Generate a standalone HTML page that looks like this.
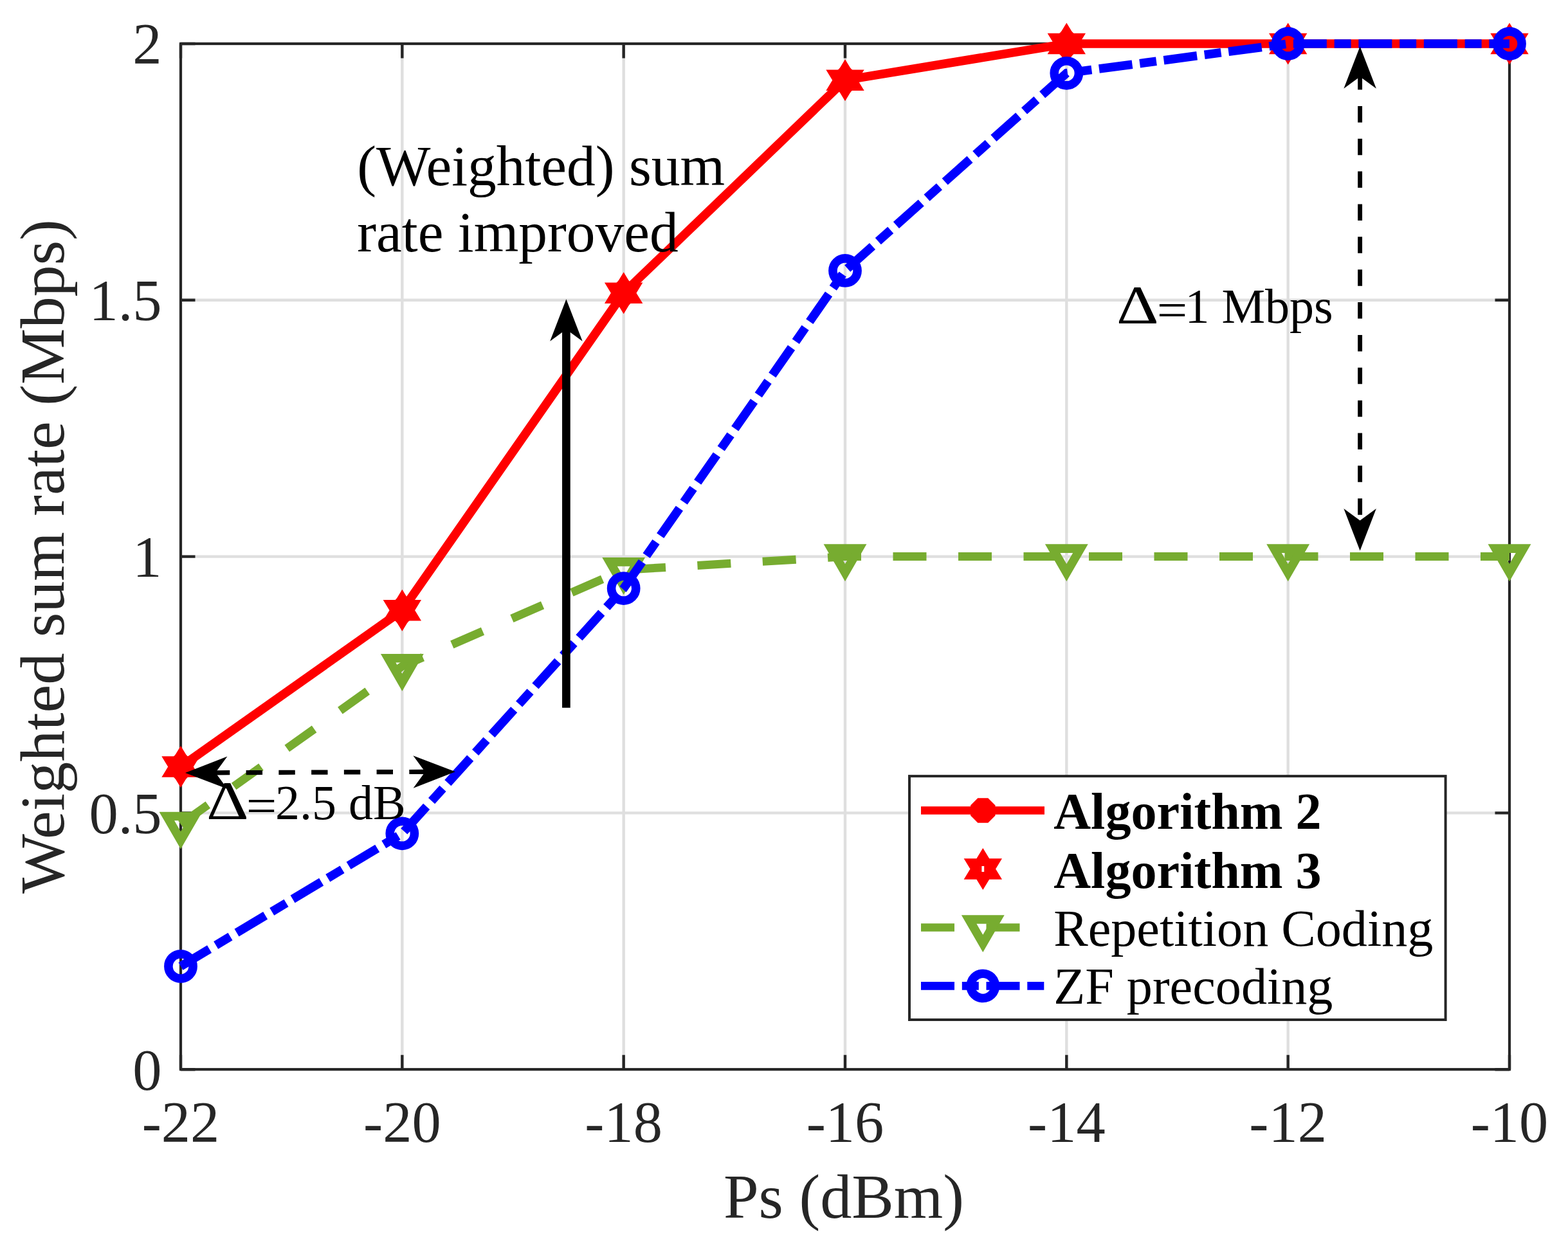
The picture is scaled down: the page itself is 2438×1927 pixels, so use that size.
<!DOCTYPE html><html><head><meta charset="utf-8"><title>Weighted sum rate vs Ps</title>
<style>html,body{margin:0;padding:0;background:#fff;}svg{display:block;}text{font-family:"Liberation Serif","Times New Roman",serif;}</style></head><body>
<svg width="2438" height="1927" viewBox="0 0 2438 1927">
<rect width="2438" height="1927" fill="#fff"/>
<path d="M625.33 68V1663.2 M969.67 68V1663.2 M1314 68V1663.2 M1658.33 68V1663.2 M2002.67 68V1663.2 M281 1264.4H2347 M281 865.6H2347 M281 466.8H2347" stroke="#dfdfdf" stroke-width="4.4" fill="none"/>
<path d="M281 1663.2V1640.7 M281 68V90.5 M625.33 1663.2V1640.7 M625.33 68V90.5 M969.67 1663.2V1640.7 M969.67 68V90.5 M1314 1663.2V1640.7 M1314 68V90.5 M1658.33 1663.2V1640.7 M1658.33 68V90.5 M2002.67 1663.2V1640.7 M2002.67 68V90.5 M2347 1663.2V1640.7 M2347 68V90.5 M281 1663.2H303.5 M2347 1663.2H2324.5 M281 1264.4H303.5 M2347 1264.4H2324.5 M281 865.6H303.5 M2347 865.6H2324.5 M281 466.8H303.5 M2347 466.8H2324.5 M281 68H303.5 M2347 68H2324.5" stroke="#262626" stroke-width="4.4" fill="none"/>
<rect x="281" y="68" width="2066" height="1595.2" fill="none" stroke="#262626" stroke-width="4.2"/>
<g font-size="90.5" fill="#262626"><text x="281" y="1775.8" text-anchor="middle">-22</text><text x="625.33" y="1775.8" text-anchor="middle">-20</text><text x="969.67" y="1775.8" text-anchor="middle">-18</text><text x="1314" y="1775.8" text-anchor="middle">-16</text><text x="1658.33" y="1775.8" text-anchor="middle">-14</text><text x="2002.67" y="1775.8" text-anchor="middle">-12</text><text x="2347" y="1775.8" text-anchor="middle">-10</text><text x="251.5" y="1694.5" text-anchor="end">0</text><text x="251.5" y="1295.7" text-anchor="end">0.5</text><text x="251.5" y="896.9" text-anchor="end">1</text><text x="251.5" y="498.1" text-anchor="end">1.5</text><text x="251.5" y="99.3" text-anchor="end">2</text></g>
<text x="1312" y="1893.7" text-anchor="middle" font-size="98.3" fill="#262626">Ps (dBm)</text>
<text transform="translate(98.5 865.6) rotate(-90)" text-anchor="middle" font-size="98.3" fill="#262626">Weighted sum rate (Mbps)</text>
<polyline points="281,1192.62 625.33,949.35 969.67,455.63 1314,124.63 1658.33,68 2002.67,68 2347,68" fill="none" stroke="#ff0000" stroke-width="13.6" stroke-linejoin="miter"/>
<polygon points="300.22,1184.66 288.96,1173.4 273.04,1173.4 261.78,1184.66 261.78,1200.58 273.04,1211.83 288.96,1211.83 300.22,1200.58" fill="#ff0000"/>
<polygon points="644.55,941.39 633.29,930.13 617.37,930.13 606.12,941.39 606.12,957.31 617.37,968.56 633.29,968.56 644.55,957.31" fill="#ff0000"/>
<polygon points="988.88,447.67 977.63,436.42 961.71,436.42 950.45,447.67 950.45,463.59 961.71,474.85 977.63,474.85 988.88,463.59" fill="#ff0000"/>
<polygon points="1333.22,116.67 1321.96,105.41 1306.04,105.41 1294.78,116.67 1294.78,132.59 1306.04,143.85 1321.96,143.85 1333.22,132.59" fill="#ff0000"/>
<polygon points="1677.55,60.04 1666.29,48.78 1650.37,48.78 1639.12,60.04 1639.12,75.96 1650.37,87.22 1666.29,87.22 1677.55,75.96" fill="#ff0000"/>
<polygon points="2021.88,60.04 2010.63,48.78 1994.71,48.78 1983.45,60.04 1983.45,75.96 1994.71,87.22 2010.63,87.22 2021.88,75.96" fill="#ff0000"/>
<polygon points="2366.22,60.04 2354.96,48.78 2339.04,48.78 2327.78,60.04 2327.78,75.96 2339.04,87.22 2354.96,87.22 2366.22,75.96" fill="#ff0000"/>
<polygon points="281,1160.12 271.1,1176.37 251.31,1176.37 261.2,1192.62 251.31,1208.87 271.1,1208.87 281,1225.12 290.9,1208.87 310.69,1208.87 300.8,1192.62 310.69,1176.37 290.9,1176.37" fill="#ff0000"/>
<polygon points="625.33,916.85 615.44,933.1 595.64,933.1 605.54,949.35 595.64,965.6 615.44,965.6 625.33,981.85 635.23,965.6 655.03,965.6 645.13,949.35 655.03,933.1 635.23,933.1" fill="#ff0000"/>
<polygon points="969.67,423.13 959.77,439.38 939.97,439.38 949.87,455.63 939.97,471.88 959.77,471.88 969.67,488.13 979.56,471.88 999.36,471.88 989.46,455.63 999.36,439.38 979.56,439.38" fill="#ff0000"/>
<polygon points="1314,92.13 1304.1,108.38 1284.31,108.38 1294.2,124.63 1284.31,140.88 1304.1,140.88 1314,157.13 1323.9,140.88 1343.69,140.88 1333.8,124.63 1343.69,108.38 1323.9,108.38" fill="#ff0000"/>
<polygon points="1658.33,35.5 1648.44,51.75 1628.64,51.75 1638.54,68 1628.64,84.25 1648.44,84.25 1658.33,100.5 1668.23,84.25 1688.03,84.25 1678.13,68 1688.03,51.75 1668.23,51.75" fill="#ff0000"/>
<polygon points="2002.67,35.5 1992.77,51.75 1972.97,51.75 1982.87,68 1972.97,84.25 1992.77,84.25 2002.67,100.5 2012.56,84.25 2032.36,84.25 2022.46,68 2032.36,51.75 2012.56,51.75" fill="#ff0000"/>
<polygon points="2347,35.5 2337.1,51.75 2317.31,51.75 2327.2,68 2317.31,84.25 2337.1,84.25 2347,100.5 2356.9,84.25 2376.69,84.25 2366.8,68 2376.69,51.75 2356.9,51.75" fill="#ff0000"/>
<polyline points="281,1281.95 625.33,1036.29 969.67,886.34 1314,865.6 1658.33,865.6 2002.67,865.6 2347,865.6" fill="none" stroke="#77ac30" stroke-width="13" stroke-dasharray="52 49.5"/>
<polygon points="259.35,1269.45 302.65,1269.45 281,1306.95" fill="none" stroke="#77ac30" stroke-width="13.6" stroke-linejoin="miter" stroke-miterlimit="10"/>
<polygon points="603.68,1023.79 646.98,1023.79 625.33,1061.29" fill="none" stroke="#77ac30" stroke-width="13.6" stroke-linejoin="miter" stroke-miterlimit="10"/>
<polygon points="948.02,873.84 991.32,873.84 969.67,911.34" fill="none" stroke="#77ac30" stroke-width="13.6" stroke-linejoin="miter" stroke-miterlimit="10"/>
<polygon points="1292.35,853.1 1335.65,853.1 1314,890.6" fill="none" stroke="#77ac30" stroke-width="13.6" stroke-linejoin="miter" stroke-miterlimit="10"/>
<polygon points="1636.68,853.1 1679.98,853.1 1658.33,890.6" fill="none" stroke="#77ac30" stroke-width="13.6" stroke-linejoin="miter" stroke-miterlimit="10"/>
<polygon points="1981.02,853.1 2024.32,853.1 2002.67,890.6" fill="none" stroke="#77ac30" stroke-width="13.6" stroke-linejoin="miter" stroke-miterlimit="10"/>
<polygon points="2325.35,853.1 2368.65,853.1 2347,890.6" fill="none" stroke="#77ac30" stroke-width="13.6" stroke-linejoin="miter" stroke-miterlimit="10"/>
<polyline points="281,1502.88 625.33,1296.3 969.67,915.05 1314,420.94 1658.33,113.78 2002.67,68 2347,68" fill="none" stroke="#0000ff" stroke-width="13.6" stroke-dasharray="52 11.8 26 11.7"/>
<circle cx="281" cy="1502.88" r="19.1" fill="none" stroke="#0000ff" stroke-width="13.6"/>
<circle cx="625.33" cy="1296.3" r="19.1" fill="none" stroke="#0000ff" stroke-width="13.6"/>
<circle cx="969.67" cy="915.05" r="19.1" fill="none" stroke="#0000ff" stroke-width="13.6"/>
<circle cx="1314" cy="420.94" r="19.1" fill="none" stroke="#0000ff" stroke-width="13.6"/>
<circle cx="1658.33" cy="113.78" r="19.1" fill="none" stroke="#0000ff" stroke-width="13.6"/>
<circle cx="2002.67" cy="68" r="19.1" fill="none" stroke="#0000ff" stroke-width="13.6"/>
<circle cx="2347" cy="68" r="19.1" fill="none" stroke="#0000ff" stroke-width="13.6"/>
<path d="M880.4 1100.7V505" stroke="#000" stroke-width="12.7" fill="none"/>
<polygon points="880.4,465.3 905.65,530.8 880.4,512.3 855.15,530.8" fill="#000"/>
<path d="M335 1201.8L661 1200.4" stroke="#000" stroke-width="7.2" fill="none" stroke-dasharray="25.4 25.34" stroke-dashoffset="3.1"/>
<polygon points="288,1202 353.39,1176.47 335,1201.8 353.61,1226.97" fill="#000"/>
<polygon points="708,1200.2 642.61,1225.73 661,1200.4 642.39,1175.23" fill="#000"/>
<path d="M2114.6 118.6V810.1" stroke="#000" stroke-width="6.9" fill="none" stroke-dasharray="25.5 25.36" stroke-dashoffset="4.56"/>
<polygon points="2114.6,72.3 2139.85,137.8 2114.6,119.3 2089.35,137.8" fill="#000"/>
<polygon points="2114.6,856.4 2089.35,790.9 2114.6,809.4 2139.85,790.9" fill="#000"/>
<g font-size="89.5" fill="#000"><text x="555.3" y="287.5">(Weighted) sum</text><text x="555.3" y="391">rate improved</text></g>
<text transform="translate(1736.11 502.7) scale(1.21 1)" font-size="84.5" fill="#000">Δ</text>
<text transform="translate(321.01 1273.7) scale(1.21 1)" font-size="84.5" fill="#000">Δ</text>
<g font-size="76" fill="#000"><text transform="translate(1798.8 507.6) scale(1.11 1)">=</text><text x="1842.4" y="502.1">1 Mbps</text><text transform="translate(382.7 1279.2) scale(1.11 1)">=</text><text x="427.9" y="1273.7">2.5 dB</text></g>
<rect x="1414" y="1207.1" width="833.6" height="378.9" fill="#fff" stroke="#262626" stroke-width="4"/>
<path d="M1432 1260.5H1624" stroke="#ff0000" stroke-width="12.6"/>
<polygon points="1547.52,1252.54 1536.26,1241.28 1520.34,1241.28 1509.08,1252.54 1509.08,1268.46 1520.34,1279.72 1536.26,1279.72 1547.52,1268.46" fill="#ff0000"/>
<polygon points="1528.3,1319 1518.4,1335.25 1498.61,1335.25 1508.5,1351.5 1498.61,1367.75 1518.4,1367.75 1528.3,1384 1538.2,1367.75 1557.99,1367.75 1548.1,1351.5 1557.99,1335.25 1538.2,1335.25" fill="#ff0000"/>
<rect x="1526.4" y="1347" width="3.8" height="9" fill="#fff"/>
<path d="M1432 1442.5H1624" stroke="#77ac30" stroke-width="12.6" stroke-dasharray="52 49.5"/>
<polygon points="1506.65,1430 1549.95,1430 1528.3,1467.5" fill="none" stroke="#77ac30" stroke-width="13.6" stroke-linejoin="miter" stroke-miterlimit="10"/>
<path d="M1432 1533.4H1624" stroke="#0000ff" stroke-width="12.6" stroke-dasharray="52 11.8 26 11.7"/>
<circle cx="1528.3" cy="1533.4" r="19.1" fill="none" stroke="#0000ff" stroke-width="13.6"/>
<g font-size="80.2" fill="#000"><text x="1638.2" y="1289" font-weight="bold">Algorithm 2</text><text x="1638.2" y="1381" font-weight="bold">Algorithm 3</text><text x="1638.2" y="1470.5">Repetition Coding</text><text x="1638.2" y="1561">ZF precoding</text></g>
</svg></body></html>
